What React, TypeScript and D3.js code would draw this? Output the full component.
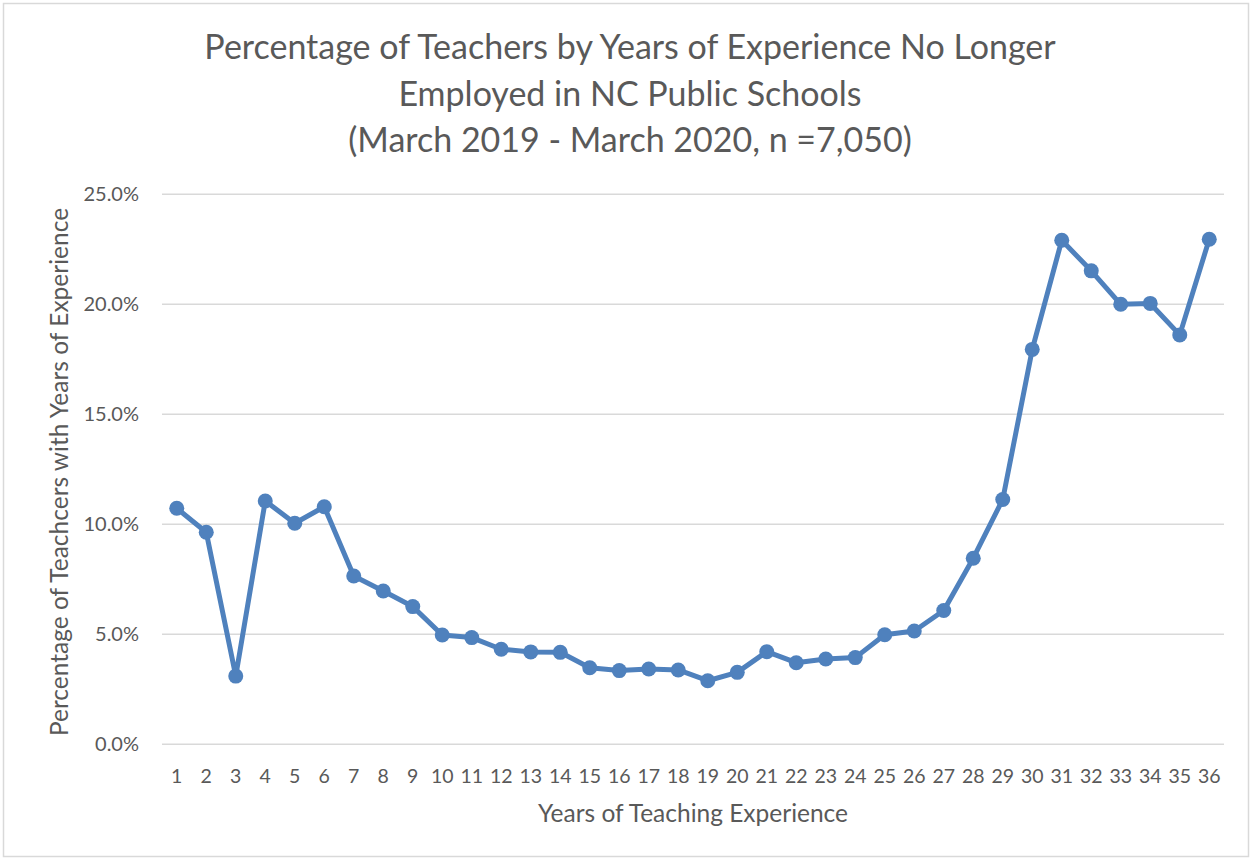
import React from "react";
import * as d3 from "d3";

const years: number[] = Array.from({ length: 36 }, (_, i) => i + 1);
const pctValues: number[] = [
  10.73, 9.64, 3.1, 11.06, 10.05, 10.8, 7.65, 6.97, 6.26, 4.97, 4.85, 4.32,
  4.2, 4.18, 3.48, 3.35, 3.42, 3.38, 2.89, 3.27, 4.21, 3.71, 3.88, 3.94, 4.98,
  5.15, 6.08, 8.46, 11.13, 17.95, 22.91, 21.52, 20.0, 20.04, 18.61, 22.96,
];
const yTicks: number[] = [0, 5, 10, 15, 20, 25];
const titleLines: string[] = [
  "Percentage of Teachers by Years of Experience No Longer",
  "Employed in NC Public Schools",
  "(March 2019 - March 2020, n =7,050)",
];
const xTitle = "Years of Teaching Experience";
const yTitle = "Percentage of Teachcers with Years of Experience";

const W = 1252;
const H = 860;
const left = 162;
const right = 1224;
const top = 194.3;
const bottom = 744.3;
const FONT = "Lato, 'Open Sans', sans-serif";
const TEXT = "#595959";
const BLUE = "#4f81bd";

export default function App() {
  const x = d3
    .scaleBand<number>()
    .domain(years)
    .range([left, right]);
  const y = d3.scaleLinear().domain([0, 25]).range([bottom, top]);
  const cx = (d: number) => (x(d) as number) + x.bandwidth() / 2;
  const line = d3
    .line<number>()
    .x((_, i) => cx(years[i]))
    .y((d) => y(d));

  return (
    <svg
      width={W}
      height={H}
      style={{ position: "absolute", left: 0, top: 0, display: "block" }}
      fontFamily={FONT}
    >
      <rect x={0} y={0} width={W} height={H} fill="#fff" />
      <rect x={3.5} y={3.5} width={W - 7} height={H - 7} fill="none" stroke="#d9d9d9" strokeWidth={1.5} />
      {titleLines.map((t, i) => (
        <text
          key={i}
          x={630}
          y={59 + i * 46.5}
          textAnchor="middle"
          fontSize={34}
          fill={TEXT}
        >
          {t}
        </text>
      ))}
      {yTicks.map((t) => (
        <g key={t}>
          <line x1={left} x2={right} y1={y(t)} y2={y(t)} stroke="#d9d9d9" strokeWidth={1.5} />
          <text x={139} y={y(t)} dy="0.35em" textAnchor="end" fontSize={20} fill={TEXT}>
            {t.toFixed(1)}%
          </text>
        </g>
      ))}
      {years.map((yr) => (
        <text key={yr} x={cx(yr)} y={783} textAnchor="middle" fontSize={19.5} fill={TEXT}>
          {yr}
        </text>
      ))}
      <text x={693} y={822} textAnchor="middle" fontSize={24.5} fill={TEXT}>
        {xTitle}
      </text>
      <text
        transform={`translate(68,472) rotate(-90)`}
        textAnchor="middle"
        fontSize={24.5}
        fill={TEXT}
      >
        {yTitle}
      </text>
      <path d={line(pctValues) || ""} fill="none" stroke={BLUE} strokeWidth={5} strokeLinejoin="round" />
      {pctValues.map((v, i) => (
        <circle key={i} cx={cx(years[i])} cy={y(v)} r={7.5} fill={BLUE} />
      ))}
    </svg>
  );
}
